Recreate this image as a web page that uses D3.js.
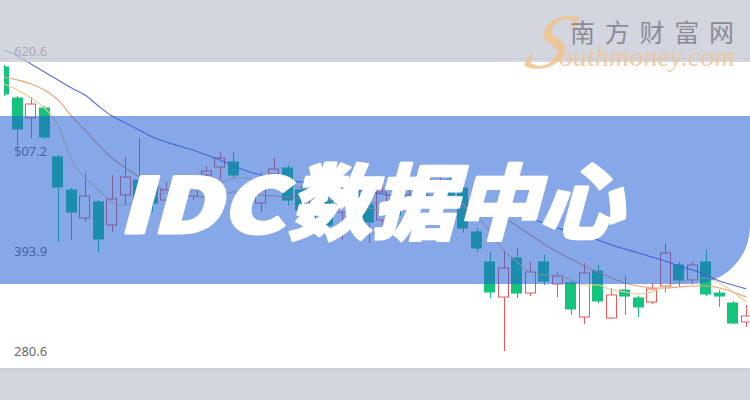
<!DOCTYPE html>
<html><head><meta charset="utf-8">
<script src="https://cdn.jsdelivr.net/npm/d3@7"></script>
<style>html,body{margin:0;padding:0;background:#fff;overflow:hidden}</style>
</head><body><svg id="c" width="750" height="400"></svg>
<script>
const days = d3.range(56).map(i => "D" + (i + 1));
const opens  = [602.5,567.3,544.7,556.0,500.5,463.1,431.3,449.5,423.4,457.4,474.4,468.7,451.7,444.9,456.3,480.1,489.1,494.8,464.2,448.3,481.2,488.0,463.1,434.7,451.7,438.1,463.1,446.1,429.1,451.7,440.4,468.7,472.1,474.4,465.3,415.5,381.5,341.8,386.0,346.3,381.5,356.5,357.7,319.1,371.3,318.0,349.7,340.7,336.1,354.3,378.1,361.1,381.5,346.3,335.0,313.5];
const closes = [571.9,532.2,560.5,523.1,466.5,438.1,456.3,407.5,452.9,477.8,451.7,448.3,463.1,447.2,469.9,484.6,499.3,480.1,454.0,471.0,486.9,451.7,440.4,457.4,423.4,451.7,434.7,426.8,460.8,434.7,457.4,451.7,477.8,457.4,420.0,397.3,347.5,374.7,346.3,370.1,359.9,365.6,328.2,369.0,337.3,344.1,342.9,330.5,350.9,391.7,361.1,378.1,345.2,342.9,312.3,320.3];
const highs  = [604.7,569.6,568.5,558.3,502.7,465.3,482.3,451.7,480.1,500.5,522.0,477.8,472.1,465.3,476.7,490.3,506.1,506.1,468.7,483.5,499.3,491.4,468.7,465.3,457.4,460.8,468.7,457.4,471.0,457.4,465.3,476.7,490.3,480.1,472.1,420.0,392.8,395.1,397.3,381.5,389.4,370.1,361.1,380.3,378.1,352.0,366.7,342.9,357.7,403.0,381.5,381.5,395.1,349.7,337.3,332.7];
const lows   = [569.6,500.5,522.0,520.9,404.1,406.4,426.8,392.8,415.5,446.1,440.4,438.1,442.7,434.7,451.7,474.4,474.4,476.7,443.8,438.1,476.7,446.1,434.7,429.1,415.5,406.4,426.8,403.0,423.4,429.1,434.7,446.1,463.1,451.7,414.3,392.8,340.7,280.6,340.7,342.9,355.4,341.8,321.4,311.2,335.0,316.9,321.4,319.1,333.9,347.5,353.1,356.5,342.9,330.5,311.2,307.8];
const ma5  = [583.2,576.4,567.3,556.0,536.7,497.1,476.7,463.1,449.5,446.1,451.7,456.3,459.7,460.8,460.8,465.3,471.0,476.7,476.7,472.1,472.1,469.9,465.3,460.8,456.3,451.7,447.2,442.7,440.4,444.9,451.7,456.3,457.4,456.3,446.1,434.7,415.5,395.1,381.5,370.1,366.7,366.7,361.1,355.4,355.4,349.7,347.5,345.2,347.5,354.3,358.8,361.1,363.3,357.7,347.5,336.1];
const ma10 = [591.1,587.7,583.2,576.4,565.1,546.9,531.1,514.1,499.3,488.0,477.8,468.7,463.1,458.5,456.3,455.1,457.4,460.8,459.7,457.4,456.3,455.1,454.0,452.9,451.7,450.6,449.5,448.3,448.3,447.2,447.2,446.1,446.1,444.9,442.7,440.4,437.0,431.3,422.3,412.1,401.9,392.8,384.9,376.9,370.1,363.3,357.7,354.3,352.0,352.0,353.1,354.3,354.3,352.0,347.5,341.8];
const ma20 = [621.7,614.9,605.9,596.8,587.7,578.7,570.7,558.3,546.9,539.0,531.1,523.1,517.5,512.9,508.4,502.7,497.1,490.3,484.6,480.1,476.7,474.4,472.1,469.9,467.6,465.3,463.1,460.8,458.5,456.3,454.0,451.7,449.5,447.2,444.9,442.7,440.4,438.1,434.7,430.2,425.7,420.0,415.5,410.9,406.4,400.7,396.2,391.7,387.1,382.6,376.9,372.4,366.7,359.9,355.4,350.9];
const tickLabels = [620.6, 507.2, 393.9, 280.6];
const titleLatin = "IDC";
const titleCn = "数据中心";
const brandCn = "南方财富网";
const brandS = "S";
const brandEn = "outhmoney.com";

const W = 750, H = 400;
const svg = d3.select("#c");
const x = d3.scaleBand().domain(days).range([-2.75, 753.25]).paddingInner(0.18).paddingOuter(0.09);
const y = d3.scaleLinear().domain([280.6, 620.6]).range([351, 51]);

svg.append("rect").attr("width", W).attr("height", H).attr("fill", "#fff");

// y labels
const ax = svg.append("g").attr("transform", "translate(14,0)")
  .call(d3.axisRight(y).tickValues(tickLabels).tickSize(0).tickPadding(0).tickFormat(d3.format(".1f")));
ax.select(".domain").remove();
ax.selectAll("text").attr("font-family", "'Noto Sans', sans-serif").attr("font-size", 13)
  .attr("fill", "#6a6a6a").attr("text-anchor", "start");

// candles
svg.append("clipPath").attr("id", "clip").append("rect").attr("x", 4).attr("y", 0).attr("width", W - 4).attr("height", H);
const plot = svg.append("g").attr("clip-path", "url(#clip)");
const UP = "#eb5858", DOWN = "#14c37c";
const data = days.map((d, i) => ({d, o: opens[i], c: closes[i], h: highs[i], l: lows[i]}));
const cg = plot.selectAll("g.k").data(data).join("g");
cg.append("line")
  .attr("x1", d => Math.round(x(d.d) + x.bandwidth() / 2) + 0.5)
  .attr("x2", d => Math.round(x(d.d) + x.bandwidth() / 2) + 0.5)
  .attr("y1", d => y(d.h)).attr("y2", d => y(d.l))
  .attr("stroke", d => d.c >= d.o ? UP : DOWN).attr("stroke-width", 1);
cg.append("rect")
  .attr("x", d => Math.round(x(d.d)) + 0.5)
  .attr("width", Math.round(x.bandwidth()) - 1)
  .attr("y", d => y(Math.max(d.o, d.c)))
  .attr("height", d => Math.max(1, Math.abs(y(d.o) - y(d.c))))
  .attr("fill", d => d.c >= d.o ? "#fff" : DOWN)
  .attr("stroke", d => d.c >= d.o ? UP : DOWN).attr("stroke-width", 1);

// moving averages
const line = d3.line().x((v, i) => x(days[i]) + x.bandwidth() / 2).y(v => y(v)).curve(d3.curveMonotoneX);
[[ma20, "#5a6ed2"], [ma10, "#f0a070"], [ma5, "#efc98e"]].forEach(([arr, col]) => {
  plot.append("path").attr("d", line(arr)).attr("fill", "none").attr("stroke", col).attr("stroke-width", 1.1);
});

// top and bottom bands
svg.append("rect").attr("x", 0).attr("y", 0).attr("width", W).attr("height", 62).attr("fill", "rgba(194,197,211,0.72)");
svg.append("rect").attr("x", 0).attr("y", 58).attr("width", W).attr("height", 1).attr("fill", "rgba(180,183,198,0.35)");
svg.append("rect").attr("x", 0).attr("y", 368).attr("width", W).attr("height", 32).attr("fill", "#d3d5df");
svg.append("rect").attr("x", 0).attr("y", 368).attr("width", W).attr("height", 2).attr("fill", "#cdd0da");

// watermark
const wm = svg.append("g");
wm.append("text").text(brandS).attr("x", 0).attr("y", 0)
  .attr("transform", "translate(522,68) skewX(-22)")
  .attr("font-family", "'Liberation Serif', serif").attr("font-style", "italic").attr("font-size", 78)
  .attr("fill", "#f1c48c").attr("opacity", 0.85);
wm.append("text").text(brandEn).attr("x", 559).attr("y", 66)
  .attr("font-family", "'Liberation Serif', serif").attr("font-style", "italic").attr("font-size", 27)
  .attr("textLength", 176).attr("lengthAdjust", "spacingAndGlyphs")
  .attr("fill", "#f0c898").attr("opacity", 0.9);
wm.append("text").text(brandCn).attr("x", 570).attr("y", 42)
  .attr("font-family", "'Noto Sans CJK SC', sans-serif").attr("font-size", 25)
  .attr("textLength", 164).attr("lengthAdjust", "spacing")
  .attr("fill", "#8a8d99");

// banner
svg.append("path").attr("d", "M0,116 H750 V226 A58,58 0 0 1 692,284 H0 Z").attr("fill", "rgba(35,96,213,0.55)");

// title
const tg = svg.append("g").attr("transform", "translate(0,233) skewX(-15)");
tg.append("text").text(titleLatin).attr("x", 118).attr("y", 0)
  .attr("font-family", "'Noto Sans CJK SC', sans-serif").attr("font-weight", 900).attr("font-size", 76)
  .attr("textLength", 166).attr("lengthAdjust", "spacingAndGlyphs")
  .attr("fill", "#fff").attr("stroke", "#fff").attr("stroke-width", 3).attr("stroke-linejoin", "round");
tg.append("text").text(titleCn).attr("x", 288).attr("y", 0)
  .attr("font-family", "'Noto Sans CJK SC', sans-serif").attr("font-weight", 900).attr("font-size", 82)
  .attr("textLength", 334).attr("lengthAdjust", "spacingAndGlyphs")
  .attr("fill", "#fff").attr("stroke", "#fff").attr("stroke-width", 2.5).attr("stroke-linejoin", "round");
</script></body></html>
